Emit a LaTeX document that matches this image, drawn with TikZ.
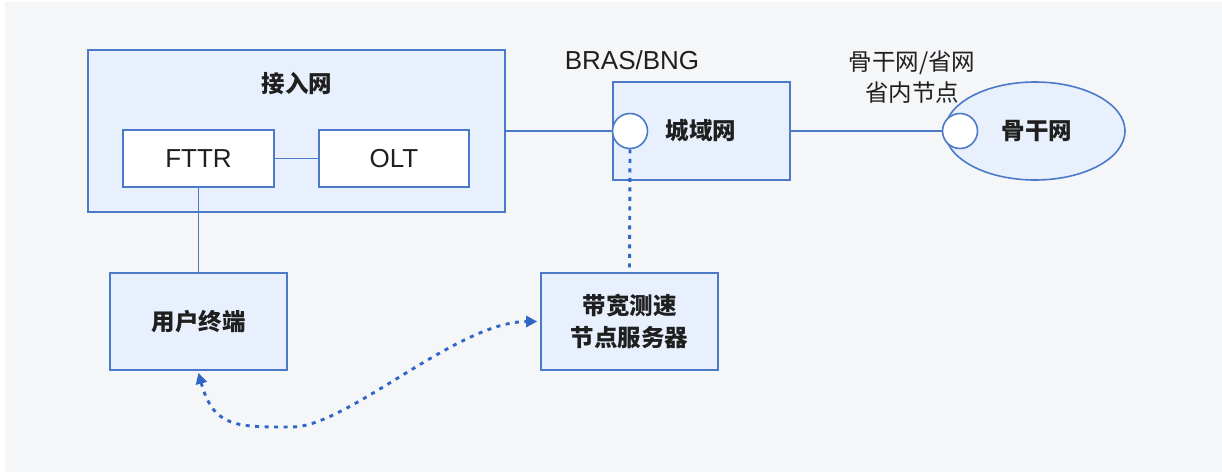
\documentclass[tikz,border=0pt]{standalone}
\usepackage{fontspec}
\setmainfont{Liberation Sans}
\newfontfamily\cjk{Noto Sans CJK SC}
\usetikzlibrary{arrows.meta,shapes.geometric}
\definecolor{bg}{HTML}{F5F6F8}
\definecolor{boxfill}{HTML}{E8F0FD}
\definecolor{edge}{HTML}{4A7AC8}
\definecolor{dot}{HTML}{2F66C8}
\tikzset{
  box/.style={draw=edge, line width=1.6pt, fill=boxfill, rectangle, inner sep=0pt},
  whitebox/.style={draw=edge, line width=1.6pt, fill=white, rectangle, inner sep=0pt},
  port/.style={draw=edge, line width=1.6pt, fill=white, circle, minimum size=35pt, inner sep=0pt},
  link/.style={draw=edge, line width=1.6pt},
  dotlink/.style={draw=dot, line width=2.9pt, dash pattern=on 4pt off 5.5pt},
  titletxt/.style={font=\cjk\bfseries\fontsize{23.5}{32}\selectfont, text=black!88, align=center},
  lattxt/.style={font=\fontsize{26}{30}\selectfont, text=black!88},
  cjktxt/.style={font=\cjk\fontsize{23.5}{31}\selectfont, text=black!88, align=center}
}
\begin{document}
\begin{tikzpicture}[x=1pt,y=-1pt]
\useasboundingbox (0,0) rectangle (1222,472);
\fill[white] (0,0) rectangle (1222,472);
\fill[bg] (5,2) rectangle (1222,472);
% access network
\node[box, minimum width=417pt, minimum height=162pt] (access) at (296.5,131) {};
\node[titletxt] (accesst) at (297,84) {接入网};
\node[whitebox, minimum width=151pt, minimum height=57pt, lattxt] (fttr) at (198.5,158.5) {FTTR};
\node[whitebox, minimum width=150pt, minimum height=57pt, lattxt] (olt) at (394,158.5) {OLT};
% metro
\node[box, minimum width=177pt, minimum height=98pt] (metro) at (701.5,131) {};
\node[titletxt] (metrot) at (701,131) {城域网};
\node[port] (bras) at (630,131) {};
\node[lattxt] (brast) at (632,60) {BRAS/BNG};
% backbone
\node[box, ellipse, minimum width=180pt, minimum height=98pt] (bb) at (1035,131) {};
\node[titletxt] (bbt) at (1037,131) {骨干网};
\node[port] (bbport) at (960,131) {};
\node[cjktxt] (bbl) at (912,77) {骨干网/省网\\省内节点};
% lower boxes
\node[box, minimum width=177pt, minimum height=97pt, titletxt] (user) at (198.5,321.5) {用户终端};
\node[box, minimum width=177pt, minimum height=97pt, titletxt] (server) at (629.5,321.5) {带宽测速\\节点服务器};
% connectors
\draw[link] (fttr) -- (olt);
\draw[link] (access.east) -- (bras.west);
\draw[link] (metro.east) -- (bbport.west);
\draw[link] (fttr.south) -- (user.north);
\draw[dotlink] (bras.south) -- (server.north);
\coordinate (low) at (292,427);
\draw[dotlink, {Triangle[length=11pt,width=11pt]}-{Triangle[length=11pt,width=11pt]}]
  ([yshift=-2pt]user.south) .. controls +(15,55) and +(-55,0) .. (low)
  .. controls +(55,0) and +(-80,0) .. ([xshift=-3pt]server.west);
\end{tikzpicture}
\end{document}
